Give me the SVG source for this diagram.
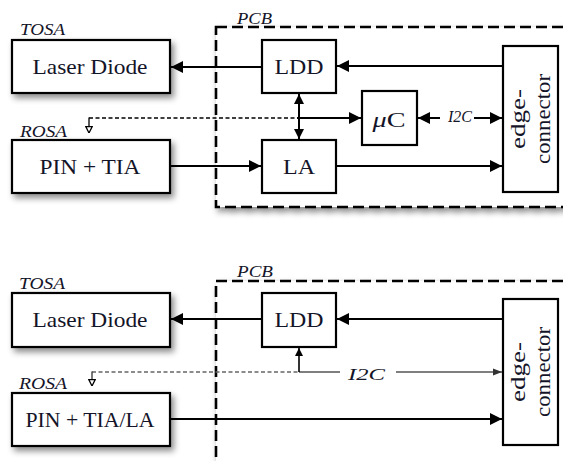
<svg xmlns="http://www.w3.org/2000/svg" width="563" height="461" viewBox="0 0 563 461">
  <style>
    .box { fill: #fff; stroke: #000; stroke-width: 2.2; }
    .pcb { fill: #fff; stroke: #000; stroke-width: 2.6; stroke-dasharray: 11 5; }
    .lbl { font-family: "Liberation Serif", "DejaVu Serif", "Noto Serif", serif; font-size: 22px; fill: #141428; text-anchor: middle; }
    .tag { font-family: "Liberation Serif", "DejaVu Serif", "Noto Serif", serif; font-style: italic; font-size: 17px; fill: #141428; }
    .wire { fill: none; stroke: #000; stroke-width: 2; }
    .ctl { fill: none; stroke: #000; stroke-width: 1.3; stroke-dasharray: 4 2.5; }
    .bus { fill: none; stroke: #555; stroke-width: 1.5; }
    .busd { fill: none; stroke: #666; stroke-width: 1.4; stroke-dasharray: 4 2.5; }
  </style>
  <defs>
    <filter id="shadow" x="-20%" y="-20%" width="150%" height="160%">
      <feDropShadow dx="3" dy="4" stdDeviation="3" flood-color="#000" flood-opacity="0.45"/>
    </filter>
    <marker id="arr" viewBox="0 0 10 10" refX="10" refY="5" markerWidth="8" markerHeight="6" markerUnits="strokeWidth" orient="auto-start-reverse">
      <path d="M0,0 L10,5 L0,10 Z" fill="#000"/>
    </marker>
    <marker id="arrs" viewBox="0 0 10 10" refX="10" refY="5" markerWidth="6" markerHeight="5" markerUnits="strokeWidth" orient="auto-start-reverse">
      <path d="M0,0 L10,5 L0,10 Z" fill="#000"/>
    </marker>
    <marker id="arrg" viewBox="0 0 10 10" refX="10" refY="5" markerWidth="11" markerHeight="6" markerUnits="strokeWidth" orient="auto">
      <path d="M0,1 L10,5 L0,9 Z" fill="#333"/>
    </marker>
    <marker id="open" viewBox="0 0 10 10" refX="5" refY="9.5" markerWidth="8" markerHeight="8" markerUnits="userSpaceOnUse" orient="0">
      <path d="M1,1.5 L9,1.5 L5,9.5 Z" fill="#fff" stroke="#000" stroke-width="1.6"/>
    </marker>
  </defs>

  <!-- ===== Upper variant: separate LA with microcontroller ===== -->
  <g id="pcb1">
    <rect class="pcb" x="216" y="27" width="360" height="180" filter="url(#shadow)"/>
    <text class="tag" x="237" y="24" textLength="35" lengthAdjust="spacingAndGlyphs">PCB</text>
  </g>
  <g id="tosa1">
    <text class="tag" x="20" y="35" textLength="45" lengthAdjust="spacingAndGlyphs">TOSA</text>
    <rect class="box" x="12" y="40" width="158" height="53" filter="url(#shadow)"/>
    <text class="lbl" x="90" y="74" textLength="115" lengthAdjust="spacingAndGlyphs">Laser Diode</text>
  </g>
  <g id="rosa1">
    <text class="tag" x="20" y="137" textLength="47" lengthAdjust="spacingAndGlyphs">ROSA</text>
    <rect class="box" x="12" y="140" width="158" height="53" filter="url(#shadow)"/>
    <text class="lbl" x="90" y="174" textLength="101" lengthAdjust="spacingAndGlyphs">PIN + TIA</text>
  </g>
  <g id="ldd1">
    <rect class="box" x="262" y="40" width="74" height="53"/>
    <text class="lbl" x="299" y="74" textLength="49" lengthAdjust="spacingAndGlyphs">LDD</text>
  </g>
  <g id="la1">
    <rect class="box" x="262" y="140" width="74" height="53"/>
    <text class="lbl" x="299" y="174" textLength="32" lengthAdjust="spacingAndGlyphs">LA</text>
  </g>
  <g id="uc1">
    <rect class="box" x="362" y="91" width="55" height="54"/>
    <text class="lbl" x="389" y="127" textLength="33" lengthAdjust="spacingAndGlyphs"><tspan font-style="italic">μ</tspan>C</text>
  </g>
  <g id="edge1">
    <rect class="box" x="503" y="46" width="55" height="146"/>
    <text class="lbl" transform="translate(525,119) rotate(-90)" x="0" y="0" textLength="60" lengthAdjust="spacingAndGlyphs">edge-</text>
    <text class="lbl" transform="translate(550,119) rotate(-90)" x="0" y="0" textLength="90" lengthAdjust="spacingAndGlyphs">connector</text>
  </g>

  <g id="connectors1">
    <line class="wire" x1="503" y1="66" x2="337" y2="66" marker-end="url(#arr)"/>
    <line class="wire" x1="262" y1="67" x2="171" y2="67" marker-end="url(#arr)"/>
    <line class="wire" x1="170" y1="166" x2="261" y2="166" marker-end="url(#arr)"/>
    <line class="wire" x1="336" y1="166" x2="502" y2="166" marker-end="url(#arr)"/>
    <line class="wire" x1="299" y1="94" x2="299" y2="139" stroke-width="1.6" marker-start="url(#arrs)" marker-end="url(#arrs)"/>
    <!-- monitor/control line into the microcontroller -->
    <polyline class="ctl" points="89,118 297,118"/>
    <line x1="89" y1="117.5" x2="89" y2="133" stroke="#000" stroke-width="1.3" marker-end="url(#open)"/>
    <line class="wire" x1="297" y1="118" x2="361" y2="118" stroke-width="1.6" marker-end="url(#arr)"/>
    <!-- I2C link between microcontroller and edge connector -->
    <line class="wire" x1="440" y1="118" x2="418" y2="118" stroke-width="1.6" marker-end="url(#arr)"/>
    <line class="wire" x1="474" y1="118" x2="502" y2="118" stroke-width="1.6" marker-end="url(#arr)"/>
    <text class="tag" x="448" y="122" font-size="12" textLength="24" lengthAdjust="spacingAndGlyphs">I2C</text>
  </g>

  <!-- ===== Lower variant: integrated TIA/LA, direct I2C ===== -->
  <g id="pcb2">
    <rect class="pcb" x="216" y="281" width="360" height="200" filter="url(#shadow)"/>
    <text class="tag" x="237" y="277" textLength="36" lengthAdjust="spacingAndGlyphs">PCB</text>
  </g>
  <g id="tosa2">
    <text class="tag" x="19" y="289" textLength="46" lengthAdjust="spacingAndGlyphs">TOSA</text>
    <rect class="box" x="12" y="293" width="158" height="54" filter="url(#shadow)"/>
    <text class="lbl" x="90" y="327" textLength="115" lengthAdjust="spacingAndGlyphs">Laser Diode</text>
  </g>
  <g id="rosa2">
    <text class="tag" x="19" y="389" textLength="48" lengthAdjust="spacingAndGlyphs">ROSA</text>
    <rect class="box" x="12" y="393" width="158" height="53" filter="url(#shadow)"/>
    <text class="lbl" x="90" y="427" textLength="129" lengthAdjust="spacingAndGlyphs">PIN + TIA/LA</text>
  </g>
  <g id="ldd2">
    <rect class="box" x="262" y="293" width="74" height="54"/>
    <text class="lbl" x="299" y="327" textLength="49" lengthAdjust="spacingAndGlyphs">LDD</text>
  </g>
  <g id="edge2">
    <rect class="box" x="503" y="299" width="55" height="146"/>
    <text class="lbl" transform="translate(525,372) rotate(-90)" x="0" y="0" textLength="60" lengthAdjust="spacingAndGlyphs">edge-</text>
    <text class="lbl" transform="translate(550,372) rotate(-90)" x="0" y="0" textLength="90" lengthAdjust="spacingAndGlyphs">connector</text>
  </g>

  <g id="connectors2">
    <line class="wire" x1="503" y1="319" x2="337" y2="319" marker-end="url(#arr)"/>
    <line class="wire" x1="262" y1="319" x2="171" y2="319" marker-end="url(#arr)"/>
    <line class="wire" x1="170" y1="419" x2="502" y2="419" marker-end="url(#arr)"/>
    <!-- I2C bus -->
    <polyline class="busd" points="92,372 299,372"/>
    <line x1="92" y1="371.5" x2="92" y2="386" stroke="#333" stroke-width="1.3" marker-end="url(#open)"/>
    <line class="bus" x1="299" y1="372" x2="340" y2="372"/>
    <line x1="299" y1="372" x2="299" y2="348" stroke="#000" stroke-width="1.6" marker-end="url(#arrs)"/>
    <line class="bus" x1="396" y1="372" x2="502" y2="372" marker-end="url(#arrg)"/>
    <text class="tag" x="348" y="380" font-size="21" textLength="37" lengthAdjust="spacingAndGlyphs">I2C</text>
  </g>
</svg>
